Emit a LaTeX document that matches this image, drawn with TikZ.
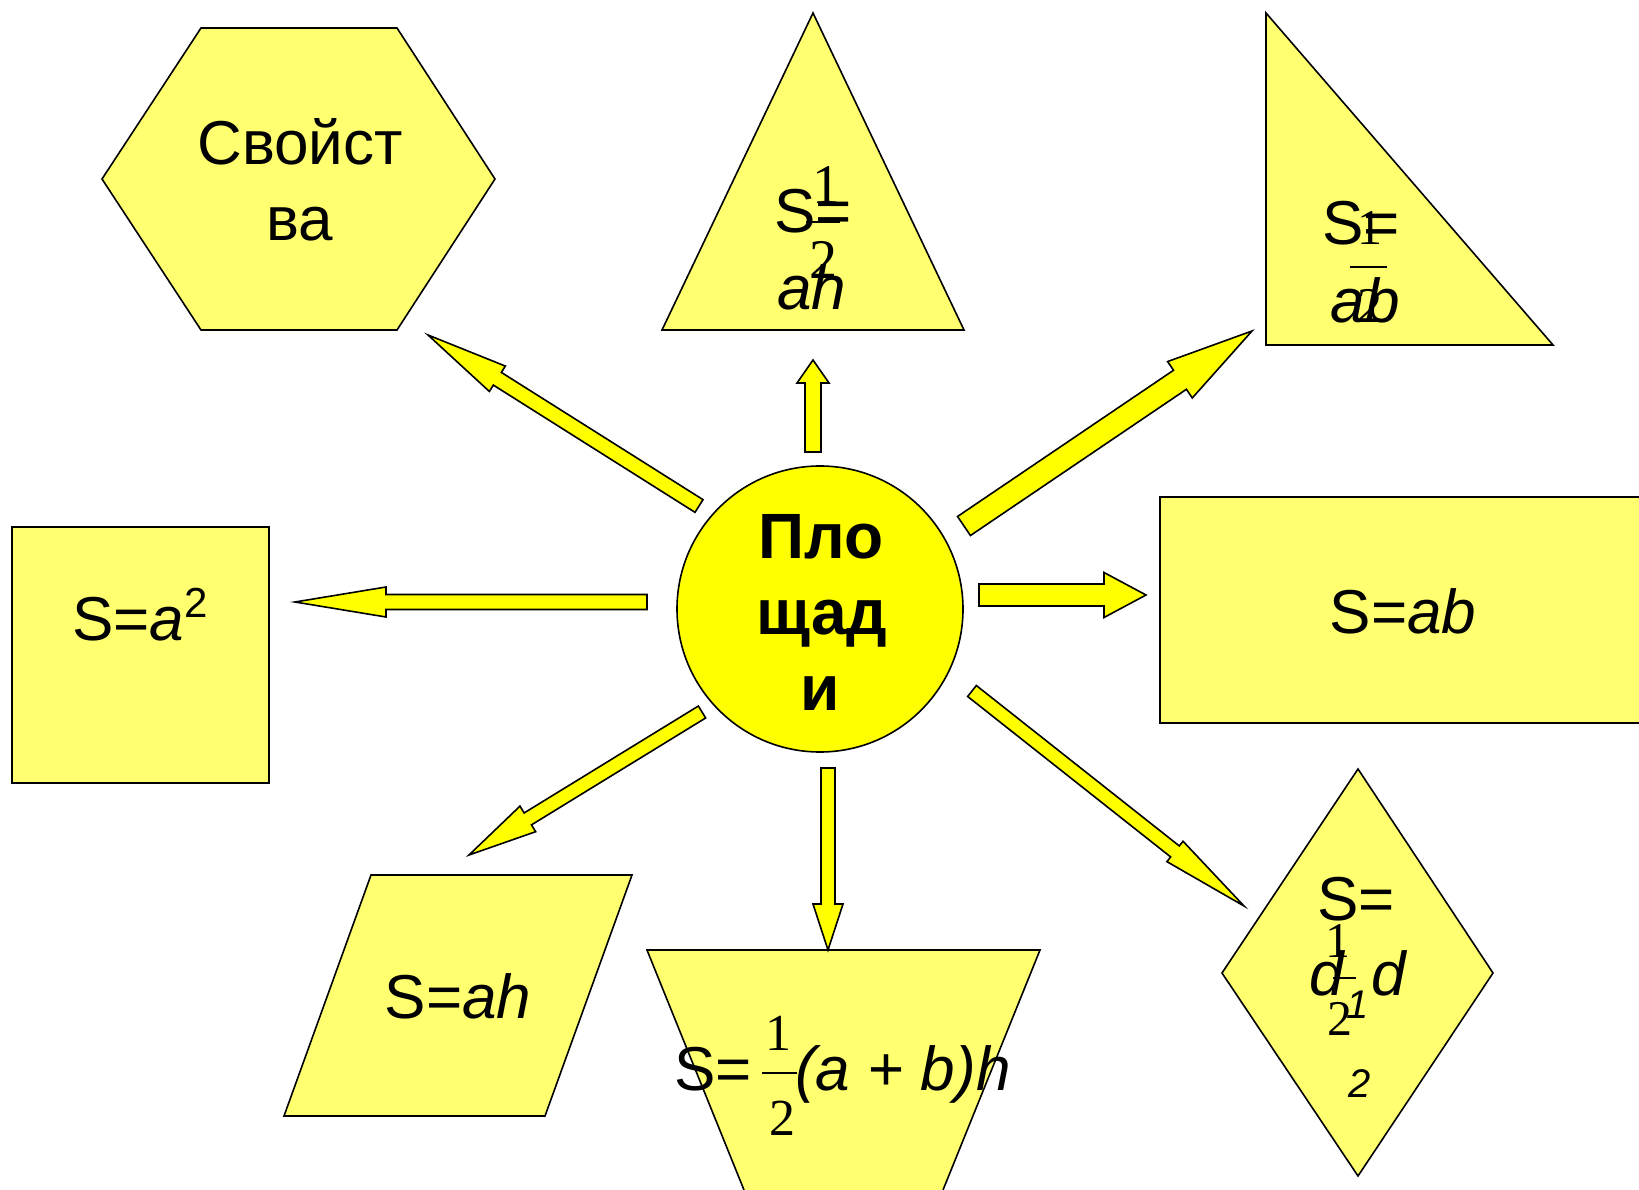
\documentclass[tikz,border=0pt]{standalone}
\usepackage{fontspec}
\setmainfont{Liberation Sans}
\newfontfamily\tmsfont{Liberation Serif}
\usepackage{tikz}
\usetikzlibrary{calc}
\definecolor{lyel}{HTML}{FFFF70}
\definecolor{cyel}{HTML}{FFFF00}
\newcommand\fA{\fontsize{62}{74}\selectfont}
\newcommand\fB{\fontsize{64}{76}\selectfont\bfseries}
\newcommand\fD{\tmsfont\fontsize{50}{60}\selectfont}
\newcommand\fS{\fontsize{40}{48}\selectfont}
\newcommand\blkarr[5]{%
  \path ($(#2)!#5!(#1)$) coordinate (hb);
  \draw[arr] ($(#1)!#3!90:(#2)$) -- ($(hb)!#3!90:(#2)$) -- ($(hb)!#4!90:(#2)$) -- (#2)
    -- ($(hb)!#4!-90:(#2)$) -- ($(hb)!#3!-90:(#2)$) -- ($(#1)!#3!-90:(#2)$) -- cycle;}

\begin{document}
\begin{tikzpicture}[x=1pt,y=-1pt,
  shp/.style={draw,fill=lyel,line width=1.6pt,line join=miter},
  arr/.style={draw,fill=cyel,line width=1.6pt,line join=miter},
  t/.style={inner sep=0pt,anchor=base,font=\fA},
  tb/.style={inner sep=0pt,anchor=base,font=\fB},
  dg/.style={inner sep=0pt,anchor=base,font=\fD},
  sb/.style={inner sep=0pt,anchor=base,font=\fS\itshape},
  fbar/.style={line width=2pt}]
\useasboundingbox (0,0) rectangle (1639,1190);
\filldraw[shp] (102,179) -- (201,28) -- (397,28) -- (495,179) -- (397,330) -- (201,330) -- cycle;
\filldraw[shp] (813,13) -- (964,330) -- (662,330) -- cycle;
\filldraw[shp] (1266,13) -- (1553,345) -- (1266,345) -- cycle;
\node[shp,minimum width=257pt,minimum height=256pt,inner sep=0pt] (sq) at (140.5,655) {};
\filldraw[shp] (1639,497) -- (1160,497) -- (1160,723) -- (1639,723);
\filldraw[shp] (371,875) -- (632,875) -- (545,1116) -- (284,1116) -- cycle;
\filldraw[shp] (744,1190) -- (647,950) -- (1040,950) -- (943,1190);
\filldraw[shp] (1358,769) -- (1493,973) -- (1358,1176) -- (1222,973) -- cycle;
\node[circle,draw,fill=cyel,line width=1.6pt,minimum size=286pt,inner sep=0pt] (ctr) at (820,609) {};
\coordinate (a1s) at (699,506);  \coordinate (a1e) at (428,335);
\coordinate (a2s) at (813,452);  \coordinate (a2e) at (813,360);
\coordinate (a3s) at (964,526);  \coordinate (a3e) at (1252,331);
\coordinate (a4s) at (647,602);  \coordinate (a4e) at (295,602);
\coordinate (a5s) at (979,595);  \coordinate (a5e) at (1146,595);
\coordinate (a6s) at (702,712);  \coordinate (a6e) at (469,855);
\coordinate (a7s) at (828,768);  \coordinate (a7e) at (828,950);
\coordinate (a8s) at (972,691);  \coordinate (a8e) at (1244,906);
\blkarr{a1s}{a1e}{7.5pt}{15pt}{82pt}
\blkarr{a2s}{a2e}{8pt}{16pt}{23pt}
\blkarr{a3s}{a3e}{11.5pt}{22pt}{87pt}
\blkarr{a4s}{a4e}{7.5pt}{15pt}{91pt}
\blkarr{a5s}{a5e}{11pt}{22.5pt}{42pt}
\blkarr{a6s}{a6e}{7pt}{15pt}{69pt}
\blkarr{a7s}{a7e}{7pt}{15pt}{46pt}
\blkarr{a8s}{a8e}{7pt}{13pt}{88pt}
\node[t] (hx1) at (300,165) {Свойст};
\node[t] (hx2) at (300,241) {ва};
\node[tb] (c1) at (821,558) {Пло};
\node[tb] (c2) at (822,634) {щад};
\node[tb] (c3) at (820,710) {и};
\node[t] (sqt) at (140,640) {S=\textit{a}{\fontsize{42}{42}\selectfont\raisebox{23pt}{2}}};
\node[t] (rct) at (1403,633) {S=\textit{ab}};
\node[t] (plt) at (458,1018) {S=\textit{ah}};
\node[dg,font=\tmsfont\fontsize{56}{64}\selectfont] (tr1) at (826,204) {1};
\node[dg,font=\tmsfont\fontsize{56}{64}\selectfont] (tr2) at (823,279) {2};
\draw[fbar] (806,222) -- (840,222);
\node[t] (trs) at (813,233) {S=};
\node[t] (tra) at (812,310) {\textit{ah}};
\node[dg] (rt1) at (1370,245) {1};
\node[dg] (rt2) at (1370,323) {2};
\node[t] (rts) at (1361,245) {S=};
\draw[fbar] (1350,267) -- (1387,267);
\node[t] (rta) at (1365,323) {\textit{ab}};
\node[t,anchor=base east] (tzs) at (752,1090) {S=};
\node[dg,font=\tmsfont\fontsize{52}{60}\selectfont] (tz1) at (778,1050) {1};
\node[dg,font=\tmsfont\fontsize{52}{60}\selectfont] (tz2) at (782,1135) {2};
\draw[fbar] (762,1073) -- (797,1073);
\node[t,anchor=base west] (tzr) at (795,1090) {\textit{(a + b)h}};
\node[t] (rhs) at (1356,920) {S=};
\node[dg] (rh1) at (1338,957) {1};
\node[dg] (rh2) at (1340,1035) {2};
\draw[fbar] (1333,978) -- (1356,978);
\node[t] (rhd1) at (1328,995) {\textit{d}};
\node[sb] (rhi1) at (1358,1018) {1};
\node[t] (rhd2) at (1390,995) {\textit{d}};
\node[sb] (rhi2) at (1360,1097) {2};
\end{tikzpicture}
\end{document}
